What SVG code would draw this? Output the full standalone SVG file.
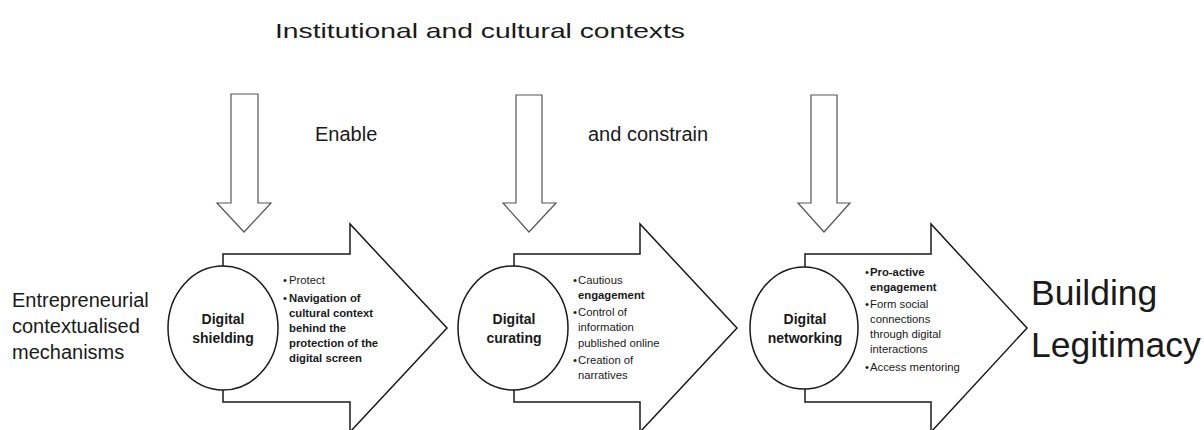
<svg xmlns="http://www.w3.org/2000/svg" width="1204" height="430" viewBox="0 0 1204 430">
<style>
text{font-family:"Liberation Sans",Arial,sans-serif;fill:#1a1a1a}
.big{fill:#fff;stroke:#1a1a1a;stroke-width:1.5;stroke-linejoin:miter}
.circ{fill:#fff;stroke:#1a1a1a;stroke-width:1.5}
.down{fill:#fff;stroke:#555;stroke-width:1.2}
.lbl{font-size:20px}
.cl{font-size:14px;font-weight:bold;text-anchor:middle}
.bt{font-size:11.3px}
.b{font-weight:bold}
.goal{font-size:35.5px}
</style>
<rect width="1204" height="430" fill="#fff"/>
<g id="title">
<text x="275" y="38" font-size="21" textLength="410" lengthAdjust="spacingAndGlyphs">Institutional and cultural contexts</text>
<text class="lbl" x="315" y="141">Enable</text>
<text class="lbl" x="588" y="141">and constrain</text>
</g>
<g id="connectors">
<polygon class="down" points="231,94 258,94 258,203 271,203 244,232 217,203 231,203"/>
<polygon class="down" points="516,95 542,95 542,203 556,203 529,232 503,203 516,203"/>
<polygon class="down" points="811,95 837,95 837,203 850,203 824,232 798,203 811,203"/>
</g>
<g id="mechanisms-label">
<text class="lbl" x="12" y="307">Entrepreneurial</text>
<text class="lbl" x="12" y="333">contextualised</text>
<text class="lbl" x="12" y="359">mechanisms</text>
</g>
<g id="node-shielding">
<polygon class="big" points="223,254 350,254 350,224 447,328 350,432 350,402 223,402"/>
<ellipse class="circ" cx="223" cy="328" rx="55" ry="62"/>
<text class="cl" x="223" y="324">Digital</text>
<text class="cl" x="223" y="343">shielding</text>
<g class="bt">
<text x="283" y="284">•</text><text x="289" y="284">Protect</text>
<text x="283" y="302">•</text><text class="b" x="289" y="302">Navigation of</text>
<text class="b" x="289" y="317">cultural context</text>
<text class="b" x="289" y="332">behind the</text>
<text class="b" x="289" y="347">protection of the</text>
<text class="b" x="289" y="362">digital screen</text>
</g>
</g>
<g id="node-curating">
<polygon class="big" points="514,254 640,254 640,224 737,328 640,432 640,402 514,402"/>
<ellipse class="circ" cx="513" cy="328" rx="55" ry="62"/>
<text class="cl" x="514" y="324">Digital</text>
<text class="cl" x="514" y="343">curating</text>
<g class="bt">
<text x="573" y="284">•</text><text x="578" y="284">Cautious</text>
<text class="b" x="578" y="299">engagement</text>
<text x="573" y="316">•</text><text x="578" y="316">Control of</text>
<text x="578" y="331">information</text>
<text x="578" y="347">published online</text>
<text x="573" y="364">•</text><text x="578" y="364">Creation of</text>
<text x="578" y="379">narratives</text>
</g>
</g>
<g id="node-networking">
<polygon class="big" points="805,254 931,254 931,224 1027,328 931,432 931,402 805,402"/>
<ellipse class="circ" cx="804" cy="328" rx="54" ry="61"/>
<text class="cl" x="805" y="324">Digital</text>
<text class="cl" x="805" y="343">networking</text>
<g class="bt">
<text x="865" y="276">•</text><text class="b" x="870" y="276">Pro-active</text>
<text class="b" x="870" y="291">engagement</text>
<text x="865" y="308">•</text><text x="870" y="308">Form social</text>
<text x="870" y="323">connections</text>
<text x="870" y="338">through digital</text>
<text x="870" y="353">interactions</text>
<text x="865" y="371">•</text><text x="870" y="371">Access mentoring</text>
</g>
</g>
<g id="outcome">
<text class="goal" x="1031" y="305">Building</text>
<text class="goal" x="1031" y="357">Legitimacy</text>
</g>
</svg>
